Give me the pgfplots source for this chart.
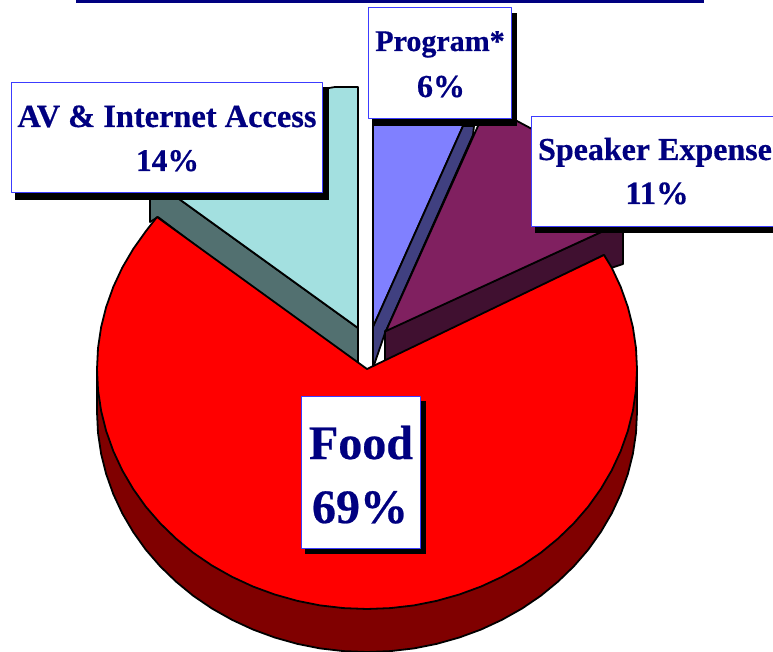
\documentclass[border=0pt]{standalone}
\usepackage{pgfplots}
\pgfplotsset{compat=1.18}
\usepackage{fontspec}
\setmainfont[BoldFeatures={FakeBold=0.5}]{Liberation Serif}
\definecolor{ink}{HTML}{000080}
\definecolor{frame}{HTML}{3C3CFF}
\definecolor{foodTop}{HTML}{FF0000}
\definecolor{foodSide}{HTML}{800000}
\definecolor{avTop}{HTML}{A3E0E0}
\definecolor{avSide}{HTML}{527070}
\definecolor{progTop}{HTML}{8080FF}
\definecolor{progSide}{HTML}{404080}
\definecolor{spkTop}{HTML}{802060}
\definecolor{spkSide}{HTML}{401030}
\newcommand{\lab}[4]{\node[anchor=base,inner sep=0pt,text=ink,font=\fontsize{#3}{#3}\selectfont\bfseries] at (axis cs:#1,#2) {#4};}
\begin{document}
\begin{tikzpicture}
\useasboundingbox (0,0) rectangle (773pt,652pt);
\begin{axis}[
  at={(0,0)}, anchor=south west,
  scale only axis, width=773pt, height=652pt,
  xmin=0, xmax=773, ymin=0, ymax=652, y dir=reverse,
  hide axis, clip=true,
  every axis plot/.append style={line join=round},
  edge/.style={draw=black, line width=1.8pt},
  lbl/.style={draw=frame, line width=1pt, fill=white},
  shd/.style={draw=none, fill=black},
]
% rule above the pie
\addplot[draw=none, fill=ink] coordinates {(76,-2) (704,-2) (704,3) (76,3)} -- cycle;

% AV & Internet Access slice
\addplot[edge, fill=avSide] coordinates {(358,328) (358,368) (158,217) (150,222) (150,178)} -- cycle;
\addplot[edge, fill=avTop] coordinates {(358,328) (358,87) (335,87) (329,88) (290,92) (250,105) (200,125) (165,155) (150,178)} -- cycle;

% Program slice
\addplot[edge, fill=progTop] coordinates {(373,327) (373,118) (470,118) (463,126)} -- cycle;
\addplot[edge, fill=progSide] coordinates {(373,327) (463,126) (474,126) (473,135) (385,333) (373,368)} -- cycle;

% Speaker Expense slice
\addplot[edge, fill=spkSide] coordinates {(385,331) (385,362) (604,255) (611,268) (623,264) (623,222)} -- cycle;
\addplot[edge, fill=spkTop] coordinates {(386,331) (478,126) (490,112) (517,121) (532,129) (570,155) (600,190) (623,222)} -- cycle;

% Food slice: side wall, then top face
\addplot[edge, fill=foodSide] coordinates {
 (637,369) (637,412) (636,432.9) (632.9,453.7) (627.8,474.1) (620.7,494.1) (611.7,513.4) (600.8,532)
 (588.2,549.7) (573.8,566.3) (557.9,581.7) (540.6,595.9) (521.9,608.6) (502,619.8) (481.1,629.5)
 (459.3,637.5) (436.9,643.8) (413.9,648.4) (390.5,651.1) (367,652) (343.5,651.1) (320.1,648.4)
 (297.1,643.8) (274.7,637.5) (252.9,629.5) (232,619.8) (212.1,608.6) (193.4,595.9) (176.1,581.7)
 (160.2,566.3) (145.8,549.7) (133.2,532) (122.3,513.4) (113.3,494.1) (106.2,474.1) (101.1,453.7)
 (98,432.9) (97,412) (97,369)} -- cycle;
\addplot[edge, fill=foodTop] coordinates {
 (367,369) (604,255) (611.7,267.6) (620.7,286.9) (627.8,306.9) (632.9,327.3) (636,348.1) (637,369)
 (636,389.9) (632.9,410.7) (627.8,431.1) (620.7,451.1) (611.7,470.4) (600.8,489) (588.2,506.7)
 (573.8,523.3) (557.9,538.7) (540.6,552.9) (521.9,565.6) (502,576.8) (481.1,586.5) (459.3,594.5)
 (436.9,600.8) (413.9,605.4) (390.5,608.1) (367,609) (343.5,608.1) (320.1,605.4) (297.1,600.8)
 (274.7,594.5) (252.9,586.5) (232,576.8) (212.1,565.6) (193.4,552.9) (176.1,538.7) (160.2,523.3)
 (145.8,506.7) (133.2,489) (122.3,470.4) (113.3,451.1) (106.2,431.1) (101.1,410.7) (98,389.9)
 (97,369) (98,348.1) (101.1,327.3) (106.2,306.9) (113.3,286.9) (122.3,267.6) (133.2,249) (145.8,231.3) (157,217)} -- cycle;

% label boxes with their drop shadows
\addplot[shd] coordinates {(15,87) (329,87) (329,200) (15,200)} -- cycle;
\addplot[lbl] coordinates {(11,83) (322,83) (322,193) (11,193)} -- cycle;
\addplot[shd] coordinates {(372,13) (517,13) (517,126) (372,126)} -- cycle;
\addplot[lbl] coordinates {(368,8) (511,8) (511,119) (368,119)} -- cycle;
\addplot[shd] coordinates {(535,123) (780,123) (780,233) (535,233)} -- cycle;
\addplot[lbl] coordinates {(531,117) (780,117) (780,227) (531,227)} -- cycle;
\addplot[shd] coordinates {(305,401) (426,401) (426,554) (305,554)} -- cycle;
\addplot[lbl] coordinates {(301,396) (420,396) (420,548) (301,548)} -- cycle;

\lab{167}{127}{32.4}{AV \& Internet Access}
\lab{167.5}{171}{31.5}{14\%}
\lab{440}{51}{30}{Program*}
\lab{441}{97}{32}{6\%}
\lab{655}{160}{32}{Speaker Expense}
\lab{657}{204}{32.5}{11\%}
\lab{361}{459}{48}{Food}
\lab{360}{523}{48}{69\%}
\end{axis}
\end{tikzpicture}
\end{document}
